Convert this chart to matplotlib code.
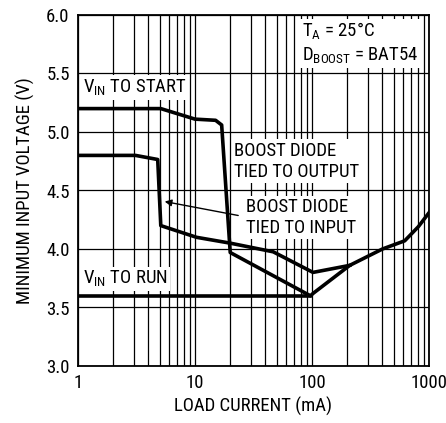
import matplotlib
matplotlib.use("Agg")
import matplotlib.pyplot as plt
from matplotlib.ticker import LogLocator, FixedLocator, NullFormatter

plt.rcParams["font.family"] = ["Roboto Condensed", "DejaVu Sans"]
plt.rcParams["mathtext.fontset"] = "custom"
plt.rcParams["mathtext.rm"] = "Roboto Condensed"

# boost diode tied to output (upper start curve)
out_x = [1, 5.1, 10, 15, 16.9, 20, 97, 102, 210, 400, 620, 810, 1000]
out_y = [5.2, 5.2, 5.11, 5.1, 5.06, 3.97, 3.6, 3.62, 3.86, 4.0, 4.07, 4.19, 4.31]
# boost diode tied to input (lower start curve)
in_x = [1, 3.1, 4.8, 5.1, 10.3, 20, 46.6, 102, 210]
in_y = [4.8, 4.8, 4.765, 4.2, 4.1, 4.05, 3.976, 3.8, 3.86]
# V_IN to run
run_x = [1, 97]
run_y = [3.6, 3.6]

x_ticks = [1, 10, 100, 1000]
x_labels = ["1", "10", "100", "1000"]
y_ticks = [3.0, 3.5, 4.0, 4.5, 5.0, 5.5, 6.0]

fig = plt.figure(figsize=(4.46, 4.23), dpi=100)
ax = fig.add_axes([78 / 446, 57 / 423, 351 / 446, 351 / 423])
ax.set_xscale("log")
ax.set_xlim(1, 1000)
ax.set_ylim(3.0, 6.0)

ax.xaxis.set_major_locator(FixedLocator(x_ticks))
ax.set_xticklabels(x_labels)
ax.xaxis.set_minor_locator(LogLocator(base=10, subs=range(2, 10)))
ax.xaxis.set_minor_formatter(NullFormatter())
ax.set_yticks(y_ticks)
ax.set_yticklabels([f"{v:.1f}" for v in y_ticks])

ax.grid(True, which="both", color="black", lw=0.9)
fs = 13.5
ax.tick_params(which="both", length=0, labelsize=fs, pad=6)
for s in ax.spines.values():
    s.set_linewidth(1.3)
    s.set_zorder(6)

ax.plot(out_x, out_y, color="black", lw=2.6, zorder=5)
ax.plot(in_x, in_y, color="black", lw=2.6, zorder=5)
ax.plot(run_x, run_y, color="black", lw=2.6, zorder=5)

box = dict(facecolor="white", edgecolor="none", pad=1.5)
ax.text(1.1, 5.38, r"V$_{\mathrm{IN}}$ TO START", fontsize=fs, va="center", bbox=box, zorder=4)
ax.text(1.1, 3.745, r"V$_{\mathrm{IN}}$ TO RUN", fontsize=fs, va="center", bbox=box, zorder=4)
ax.text(21.5, 4.75, "BOOST DIODE\nTIED TO OUTPUT", fontsize=fs, va="center",
        linespacing=1.25, bbox=box, zorder=4)
ax.text(27.5, 4.27, "BOOST DIODE\nTIED TO INPUT", fontsize=fs, va="center",
        linespacing=1.25, bbox=box, zorder=4)
ax.annotate("", xy=(5.22, 4.41), xytext=(24.7, 4.282),
            arrowprops=dict(arrowstyle="-|>", color="black", lw=1, mutation_scale=10),
            zorder=5)
ax.text(82, 5.95, "T$_{\\mathrm{A}}$ = 25°C\nD$_{\\mathrm{BOOST}}$ = BAT54", fontsize=fs,
        ha="left", va="top", linespacing=1.25, bbox=box, zorder=4)

ax.set_xlabel("LOAD CURRENT (mA)", fontsize=fs, labelpad=3)
ax.set_ylabel("MINIMUM INPUT VOLTAGE (V)", fontsize=fs, labelpad=8)

fig.savefig("out.png", dpi=100)
